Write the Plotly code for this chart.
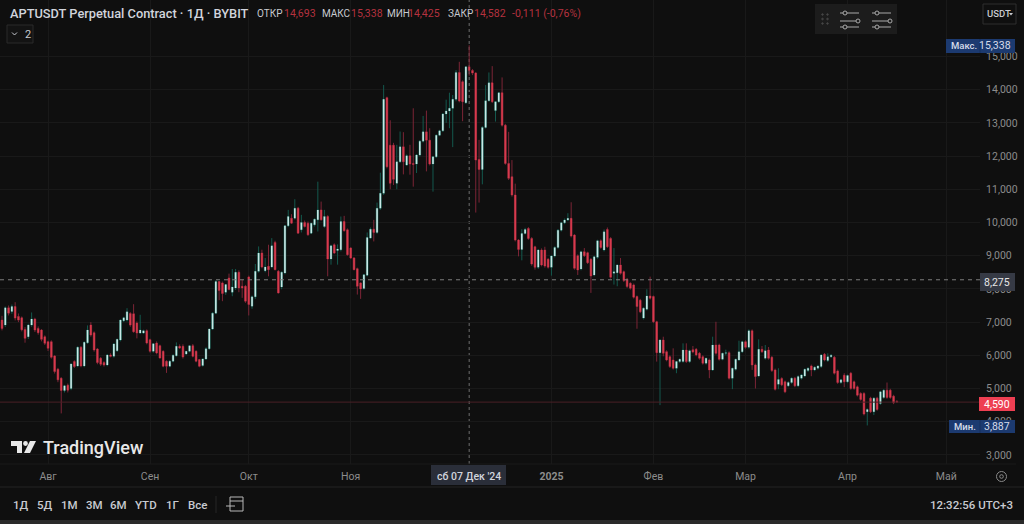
import pandas as pd
import plotly.graph_objects as go

opens = [7060,6910,7430,7320,7470,7170,7130,6780,6560,6910,
7090,6810,6760,6560,6410,6410,5980,5580,5310,4940,
5100,5000,5810,5680,6240,5680,6380,6910,6680,6190,
5910,5780,5710,6010,5970,6140,6460,7040,7060,7260,
7250,6970,6670,6670,6740,6470,6120,6370,6290,6120,
5820,5670,5820,5990,6270,6270,6040,6120,6290,6120,
5870,5690,5890,6200,6790,7270,8220,8180,7900,8330,
7900,8030,8500,8080,8080,8360,7480,7760,8530,9080,
8550,8680,8660,9400,8530,8060,8480,9900,10130,10130,
10430,9780,10000,9980,9680,9930,10080,10380,9880,10180,
8900,9330,9160,9180,10030,9780,9230,8930,8610,8180,
8010,8410,9530,9800,9700,10430,10880,13760,12330,12330,
11180,11830,12280,11730,12010,11780,11760,12030,12450,12730,
12480,11760,11980,12630,12760,13270,13360,13440,13710,14520,
14240,13610,14693,14582,14500,11900,11600,12865,13670,14210,
13370,13640,13910,12930,11780,11380,10830,9470,9190,9670,
9820,9520,9270,8650,9170,9170,8890,8650,8990,9250,
9770,9990,10075,10125,9620,9000,8600,9120,9090,8890,
8420,8950,9450,9170,9790,9520,8470,8490,8720,8520,
8290,8170,8120,7770,7660,7120,7390,7790,7770,7010,
6080,6460,6110,5960,5860,5610,5810,5810,6160,5810,
6170,6180,6060,5960,5760,5860,5560,6310,6310,5880,
6060,6080,5310,5580,5860,6110,6410,6240,6740,5710,
5380,6180,5910,6160,5940,5560,5130,5300,5200,5080,
5180,5310,5080,5310,5380,5540,5680,5560,5610,5660,
6030,5840,5960,5940,5530,5180,5400,5200,5460,5200,
5050,4850,4850,4300,4710,4300,4710,4550,4730,4950,
4950,4770,4610]

highs = [7190,7470,7500,7530,7600,7260,7170,6850,6950,7290,
7130,6870,6790,6600,6440,6450,6010,5620,5340,5110,
5150,5760,5850,6270,6280,6420,6900,7000,6720,6220,
5950,5820,6040,6060,6370,6500,7080,7160,7420,7300,
7540,7020,7220,6770,6780,6500,6360,6420,6320,6150,
5850,5860,6030,6390,6330,6330,6130,6310,6340,6150,
5890,5910,6240,6800,7300,8260,8240,8220,8130,8460,
8600,8600,8560,8280,8120,8400,7800,8750,9280,9180,
8930,9330,9530,9450,8570,8530,9920,10380,10250,10700,
10470,10230,10060,10030,9990,10120,11230,10630,10380,10220,
9330,9370,9340,10180,10200,9820,9260,8960,8640,8200,
8450,9700,9850,10080,10600,11500,14140,13790,13080,12400,
12340,12740,12720,12050,12340,13440,12060,12480,13210,13370,
12840,12000,12650,12790,13300,13700,13910,13840,14590,14840,
14280,14710,15338,14620,14530,12490,12900,14140,14520,14710,
13660,13930,14370,12970,12730,11880,11170,9500,9800,9840,
9860,9560,9300,9200,9220,9270,8930,9020,9280,9800,
10020,10120,10280,10610,9650,9040,9150,9230,9120,8930,
9000,9480,9490,9790,9850,9560,9230,8740,8930,8550,
8330,8200,8160,7800,7700,7450,7990,8370,7800,7040,
6490,6560,6150,6000,6210,5830,5900,6360,6360,6170,
6280,6220,6100,6000,5930,5900,6560,7010,6350,6080,
6170,6120,5630,5900,6440,6440,6450,6780,6780,5750,
6480,6280,6310,6250,5980,5600,5610,5340,5240,5220,
5340,5350,5400,5440,5600,5640,5720,5670,5710,6040,
6070,6060,6040,5980,5570,5290,5460,5420,5500,5240,
5090,4890,4890,4400,4750,4740,4750,4930,4980,5180,
4990,4810,4650]

lows = [6750,6850,7200,7250,7050,7000,6720,6380,6490,6860,
6700,6620,6420,6310,6130,5900,5450,5190,4250,4880,
4880,4950,5620,5640,5640,5640,6340,6560,6110,5730,
5680,5660,5670,5940,5930,6100,6420,7000,7020,6860,
6680,6510,6640,6640,6330,6080,6080,6030,5900,5640,
5470,5640,5790,5960,6190,5900,6010,6090,5940,5790,
5640,5660,5860,6170,6760,7240,7660,7630,7820,7960,
7780,7970,7900,7730,7580,7200,7400,7700,8490,8620,
8500,8380,8620,8560,7860,7990,8440,9860,9960,10090,
9670,9700,9850,9600,9650,9880,9730,10060,9840,8380,
8730,9050,8730,9130,9730,9000,8900,8560,7830,7700,
7980,8380,9500,9430,9660,10380,10830,11630,11000,11130,
11000,11790,11450,11700,11440,11080,11490,11990,12410,11540,
11720,10930,11940,12600,12730,13000,12840,12270,13650,13620,
13050,13570,14425,14440,10300,10600,11150,12830,13640,13600,
13040,13600,12890,11740,11280,10780,9430,8980,8860,9640,
9480,8700,8580,8600,8680,8640,8610,8400,8950,9210,
9730,9950,10040,9550,8580,8420,8560,8960,8750,7880,
8380,8910,9210,9130,9230,8310,8130,8080,8430,8210,
8030,7980,7710,6800,7270,7080,7350,7680,6970,5810,
4500,5970,5820,5620,5570,5460,5770,5780,5770,5770,
6060,5970,5870,5720,5720,5310,5530,6020,5840,5850,
6000,5270,4980,5540,5830,6070,6200,6200,5560,5000,
5340,6070,5870,5870,5500,4940,4980,5070,4860,5040,
5140,5040,5040,5270,5340,5500,5370,5520,5570,5620,
5820,5800,5920,5420,5140,5140,5040,5160,4960,4960,
4760,4630,4190,3887,4260,4200,4330,4510,4690,4690,
4690,4530,4570]

closes = [6810,7430,7270,7470,7120,7060,6770,6510,6910,7090,
6760,6680,6480,6360,6210,5940,5510,5260,4940,5080,
4950,5740,5660,6240,5680,6390,6760,6610,6160,5780,
5730,5710,6010,5970,6340,6480,7060,7130,7310,6910,
6710,6670,6760,6740,6370,6120,6350,6070,5920,5670,
5670,5820,6000,6270,6220,5950,6120,6290,5970,5820,
5670,5890,6200,6790,7270,8220,7950,7860,8130,7980,
8060,8500,8030,8030,7630,7530,7760,8530,9080,8660,
8660,8580,9300,8580,7880,8500,9900,10180,9980,10430,
9680,10000,9880,9630,9980,10100,10380,10080,10180,8900,
9300,9080,9200,10030,9750,9030,8930,8580,8080,8000,
8430,9550,9800,9700,10430,10880,13710,11680,11180,11300,
11830,12280,11830,12010,11760,11750,12030,12450,12730,12480,
11760,11980,12630,12760,13270,13360,13440,13710,14520,13660,
13640,14690,14582,14500,11880,11600,12865,13670,14210,13640,
13640,13910,12930,11780,11330,10830,9470,9190,9670,9790,
9520,8750,8650,9170,8720,8690,8650,8990,9250,9770,
9990,10075,10125,9590,8620,8570,9120,9000,8790,8390,
8970,9450,9250,9720,9270,8350,8520,8720,8470,8250,
8070,8020,7750,7470,7310,7420,7790,7720,7010,6080,
6460,6060,5860,5660,5610,5810,5880,6160,5810,6140,
6100,6010,5910,5760,5910,5560,6310,6060,5880,6060,
6080,5310,5610,5880,6110,6410,6240,6740,5710,5360,
6180,6110,6140,5910,5540,4975,5270,5110,4900,5180,
5310,5080,5360,5410,5580,5610,5560,5640,5680,6010,
5860,5960,6000,5460,5180,5260,5200,5390,5000,5000,
4800,4670,4230,4370,4300,4710,4370,4900,4950,4730,
4730,4570,4590]

dates = pd.date_range("2024-07-18", periods=len(opens), freq="D")
month_ticks = ["2024-08-01","2024-09-01","2024-10-01","2024-11-01","2025-01-01","2025-02-01","2025-03-01","2025-04-01","2025-05-01"]
month_labels = ["Авг","Сен","Окт","Ноя","<b>2025</b>","Фев","Мар","Апр","Май"]
price_ticks = [3000,4000,5000,6000,7000,8000,9000,10000,11000,12000,13000,14000,15000]
range_buttons = ["1Д","5Д","1М","3М","6М","YTD","1Г","Все"]
range_centers = [21,44.5,69,94,118.5,145.5,172.5,197.5]

W, H = 1024, 524
BG = "#0f0f0f"
UP_BODY = "#c8e8e6"; DOWN_BODY = "#d83a4c"
UP_WICK = "#14594e"; DOWN_WICK = "#7c2536"
px_per_day = 3.29
x0 = dates[0] - pd.Timedelta(days=2/px_per_day)
x1 = dates[0] + pd.Timedelta(days=978/px_per_day)
PLOT_R = 980; PLOT_B = 464

def X(p): return p / W
def Y(p): return 1 - p / H

fig = go.Figure()
fig.add_trace(go.Candlestick(x=dates, open=opens, high=highs, low=lows, close=closes,
    increasing=dict(line=dict(color=UP_WICK, width=1), fillcolor=UP_WICK),
    decreasing=dict(line=dict(color=DOWN_WICK, width=1), fillcolor=DOWN_WICK),
    whiskerwidth=0, hoverinfo="skip", showlegend=False))
fig.add_trace(go.Candlestick(x=dates, open=opens, high=opens, low=closes, close=closes,
    increasing=dict(line=dict(color=UP_BODY, width=0), fillcolor=UP_BODY),
    decreasing=dict(line=dict(color=DOWN_BODY, width=0), fillcolor=DOWN_BODY),
    whiskerwidth=0, hoverinfo="skip", showlegend=False))

shapes = []
ann = []
FONT = "Roboto"

def text(x, y, s, color="#d1d4dc", size=11, anchor="left", bg=None, weight=None, font=FONT):
    ann.append(dict(xref="paper", yref="paper", x=X(x), y=Y(y), text=s, showarrow=False,
        xanchor=anchor, yanchor="middle", bgcolor=bg,
        font=dict(color=color, size=size, family=font, weight=weight), borderpad=0))

def rect(x0_, y0_, x1_, y1_, fill=None, line=None, lw=1, layer="above"):
    shapes.append(dict(type="rect", xref="paper", yref="paper", x0=X(x0_), x1=X(x1_), y0=Y(y0_), y1=Y(y1_),
        fillcolor=fill, line=dict(color=line, width=lw if line else 0), layer=layer))

def seg(x0_, y0_, x1_, y1_, color, lw=1, dash=None):
    shapes.append(dict(type="line", xref="paper", yref="paper", x0=X(x0_), x1=X(x1_), y0=Y(y0_), y1=Y(y1_),
        line=dict(color=color, width=lw, dash=dash), layer="above"))

def circle(cx, cy, r, color, fill=None, lw=1):
    shapes.append(dict(type="circle", xref="paper", yref="paper", x0=X(cx-r), x1=X(cx+r), y0=Y(cy-r), y1=Y(cy+r),
        line=dict(color=color, width=lw), fillcolor=fill, layer="above"))

def poly(pts, fill):
    path = "M " + " L ".join(f"{X(a):.5f},{Y(b):.5f}" for a, b in pts) + " Z"
    shapes.append(dict(type="path", xref="paper", yref="paper", path=path, fillcolor=fill, line=dict(width=0), layer="above"))

# crosshair and last price line, placed through the axes
shapes.append(dict(type="line", xref="x", yref="paper", x0=dates[142], x1=dates[142], y0=Y(PLOT_B), y1=1,
    line=dict(color="#6e6e6e", width=1, dash="3px,3px"), layer="below"))
shapes.append(dict(type="line", xref="paper", yref="y", x0=0, x1=X(PLOT_R), y0=8275, y1=8275,
    line=dict(color="#7c7c7c", width=1, dash="4px,4px"), layer="above"))
shapes.append(dict(type="line", xref="paper", yref="y", x0=0, x1=X(PLOT_R), y0=4590, y1=4590,
    line=dict(color="#4a2026", width=1), layer="above"))

# panel rules
seg(0, PLOT_B, 1016, PLOT_B, "#1a1a1a")
seg(0, 487, 1024, 487, "#242424")
rect(0, 520, W, H, fill="#2a2a2a")

# header
text(9, 13, "APTUSDT Perpetual Contract · 1Д · BYBIT", "#d1d4dc", 12.8, weight=500)
for x_, lab, x2, val in [(256,"ОТКР",283,"14,693"),(321,"МАКС",350,"15,338"),(386,"МИН",407,"14,425"),(447,"ЗАКР",473,"14,582")]:
    text(x_, 13, lab, "#c8cad0", 10)
    text(x2, 13, val, "#b5323f", 10.5)
text(511, 13, "-0,111 (-0,76%)", "#b5323f", 10.5)
rect(7, 25, 33, 43, fill="#131313", line="#2a2a2a")
text(24, 34, "2", "#c8cad0", 11)
seg(12, 32.5, 14.5, 35, "#c8cad0"); seg(14.5, 35, 17, 32.5, "#c8cad0")

# top right tools
rect(815, 4, 897, 34, fill="#1c1c1c")
for dx in (822.5, 827.5):
    for dy in (14.5, 19, 23.5):
        circle(dx, dy, 0.8, "#454545", "#454545")
for off in (840, 872):
    for ly, cx in ((13, 845), (21, 858), (27, 845)):
        seg(off, ly, off+19, ly, "#a8a8a8", 1)
        circle(off + (cx-840), ly, 2, "#a8a8a8", "#1c1c1c")
rect(983, 4, 1016, 24, fill=BG, line="#2e2e2e")
text(986, 14, "USDT", "#c8cad0", 9.5, weight=500)
poly([(1009,13),(1013,13),(1011,15.5)], "#c8cad0")

# price tags
rect(946, 39, 1015, 53, fill="#1c3a70")
seg(980, 39, 980, 53, "#17315f")
text(950, 46, "Макс.", "#d6dcea", 9.5, weight=500)
text(1012, 46, "15,338", "#d6dcea", 10.5, anchor="right")
rect(980, 273, 1015, 291, fill="#363a45")
text(1011, 282, "8,275", "#e6e6e6", 10.5, anchor="right")
rect(979, 397, 1015, 411, fill="#ee3f52")
text(1011, 404, "4,590", "#ffffff", 10.5, anchor="right")
rect(949, 420, 1015, 433, fill="#1c3a70")
seg(980, 420, 980, 433, "#17315f")
text(953, 426.5, "Мин.", "#d6dcea", 9.5, weight=500)
text(1011, 426.5, "3,887", "#d6dcea", 10.5, anchor="right")

# TradingView mark
poly([(11,441),(22,441),(22,453),(17,453),(17,446),(11,446)], "#e8e8e8")
circle(25.5, 443.5, 2.4, "#e8e8e8", "#e8e8e8", 0)
poly([(30,441),(36,441),(30,453),(24,453)], "#e8e8e8")
text(42, 447.5, "TradingView", "#e8e8e8", 18, weight=500)

# date tag
rect(431, 465, 506, 485, fill="#2a2e39")
text(468.5, 476, "сб 07 Дек '24", "#d1d4dc", 10.5, anchor="center", weight=500)

# bottom toolbar
for c, lab in zip(range_centers, range_buttons):
    text(c, 505, lab, "#c8cad0", 11.5, anchor="center", weight=500)
seg(216, 496, 216, 513, "#262626")
rect(230, 497, 243, 511, line="#b8b8b8")
seg(230, 501, 243, 501, "#b8b8b8")
seg(226, 506, 235, 506, "#b8b8b8")
text(1014, 505, "12:32:56 UTC+3", "#c8cad0", 11.5, anchor="right", weight=500)
circle(1001.5, 476.5, 5, "#8a8a8a")
circle(1001.5, 476.5, 1.8, "#8a8a8a")

fig.update_layout(
    width=W, height=H, margin=dict(l=0, r=0, t=0, b=0),
    paper_bgcolor=BG, plot_bgcolor=BG, showlegend=False,
    shapes=shapes, annotations=ann,
    xaxis=dict(domain=[0, X(PLOT_R)], range=[x0, x1], type="date", rangeslider=dict(visible=False),
        tickvals=month_ticks, ticktext=month_labels, tickfont=dict(color="#8c8c8c", size=10.5, family=FONT),
        showgrid=True, gridcolor="#191919", gridwidth=1, zeroline=False, showline=False, ticks="outside", ticklen=2, tickcolor=BG),
    yaxis=dict(domain=[Y(PLOT_B), 1], range=[15000-(PLOT_B-56.5)*30.12, 15000+56.5*30.12], side="right",
        tickvals=price_ticks, tickformat=",d", tickfont=dict(color="#8c8c8c", size=10.5, family=FONT),
        showgrid=True, gridcolor="#191919", gridwidth=1, zeroline=False, showline=False, ticks="outside", ticklen=3, tickcolor=BG),
)
fig.write_html("out.html", config=dict(displayModeBar=False), post_script="document.body.style.margin='0';")
